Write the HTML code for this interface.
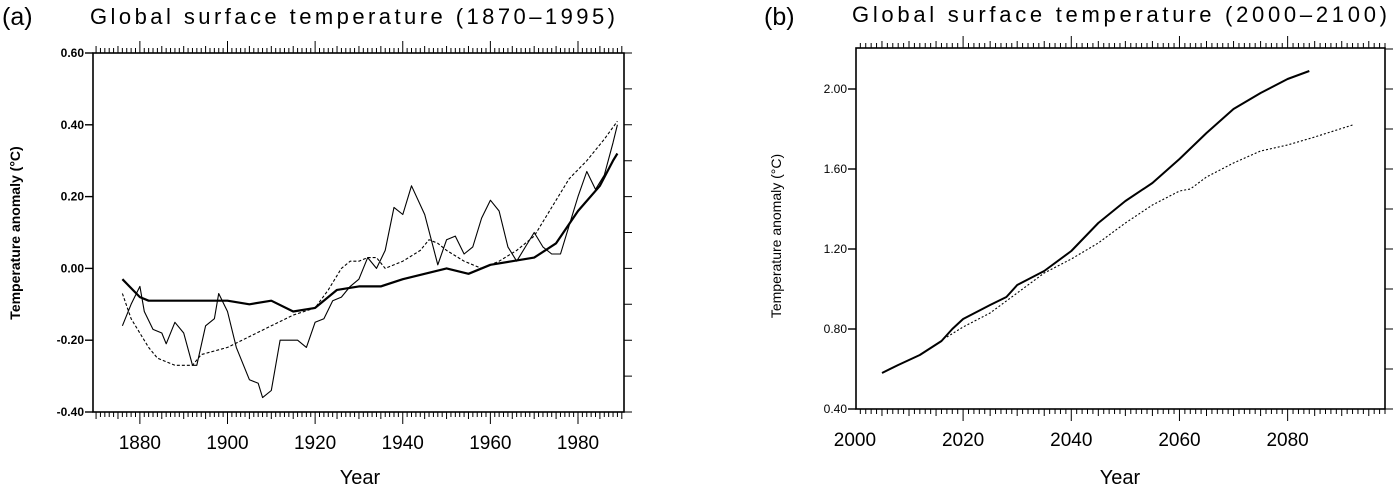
<!DOCTYPE html>
<html><head><meta charset="utf-8"><style>
html,body{margin:0;padding:0;background:#fff;width:1400px;height:489px;overflow:hidden}
svg{display:block}
text{font-family:"Liberation Sans",sans-serif;fill:#000}
</style></head><body>
<svg id="fig" width="1400" height="489" viewBox="0 0 1400 489" xmlns="http://www.w3.org/2000/svg">
<text x="2" y="25" font-size="25">(a)</text>
<text x="90" y="24" font-size="22" textLength="525" lengthAdjust="spacing">Global surface temperature (1870–1995)</text>
<text x="764" y="25" font-size="25">(b)</text>
<text x="852" y="22" font-size="22" textLength="535" lengthAdjust="spacing">Global surface temperature (2000–2100)</text>
<text x="360" y="484" font-size="20" text-anchor="middle">Year</text>
<text x="1120" y="484" font-size="20" text-anchor="middle">Year</text>
<text transform="translate(20,233) rotate(-90)" font-size="14" font-weight="bold" text-anchor="middle">Temperature anomaly (°C)</text>
<text transform="translate(781,236) rotate(-90)" font-size="14" text-anchor="middle">Temperature anomaly (°C)</text>
<g id="pa"></g>
<g id="pb"></g>
</svg>
<script>
// Panel A data
const aObsYears=[1876,1878,1880,1881,1883,1885,1886,1888,1890,1892,1893,1895,1897,1898,1900,1902,1905,1907,1908,1910,1912,1914,1916,1918,1920,1922,1924,1926,1928,1930,1932,1934,1936,1938,1940,1942,1945,1948,1950,1952,1954,1956,1958,1960,1962,1964,1966,1968,1970,1972,1974,1976,1978,1980,1982,1984,1986,1988,1989];
const aObsVals=[-0.16,-0.1,-0.05,-0.12,-0.17,-0.18,-0.21,-0.15,-0.18,-0.27,-0.27,-0.16,-0.14,-0.07,-0.12,-0.22,-0.31,-0.32,-0.36,-0.34,-0.2,-0.2,-0.2,-0.22,-0.15,-0.14,-0.09,-0.08,-0.05,-0.03,0.03,0.0,0.05,0.17,0.15,0.23,0.15,0.01,0.08,0.09,0.04,0.06,0.14,0.19,0.16,0.06,0.02,0.06,0.1,0.06,0.04,0.04,0.12,0.2,0.27,0.22,0.26,0.35,0.4];
const aModelYears=[1876,1880,1882,1890,1900,1905,1910,1915,1920,1925,1930,1935,1940,1945,1950,1955,1960,1965,1970,1975,1980,1985,1988,1989];
const aModelVals=[-0.03,-0.08,-0.09,-0.09,-0.09,-0.1,-0.09,-0.12,-0.11,-0.06,-0.05,-0.05,-0.03,-0.015,0.0,-0.015,0.01,0.02,0.03,0.07,0.16,0.23,0.3,0.32];
const aDashYears=[1876,1878,1882,1884,1888,1892,1894,1900,1905,1910,1915,1920,1923,1926,1928,1930,1932,1934,1936,1940,1944,1946,1948,1950,1954,1958,1962,1966,1970,1974,1978,1982,1986,1989];
const aDashVals=[-0.07,-0.14,-0.22,-0.25,-0.27,-0.27,-0.24,-0.22,-0.19,-0.16,-0.13,-0.11,-0.06,0.0,0.02,0.02,0.03,0.03,0.0,0.02,0.05,0.08,0.07,0.05,0.02,0.0,0.02,0.05,0.09,0.17,0.25,0.3,0.36,0.41];
const aXTicks=[1880,1900,1920,1940,1960,1980];
const aYTicks=[-0.4,-0.2,0,0.2,0.4,0.6];
const aYLabels=["-0.40","-0.20","0.00","0.20","0.40","0.60"];
// Panel B data
const bSolidYears=[2005,2008,2012,2016,2018,2020,2025,2028,2030,2035,2040,2045,2050,2055,2060,2065,2070,2075,2080,2084];
const bSolidVals=[0.58,0.62,0.67,0.74,0.8,0.85,0.92,0.96,1.02,1.09,1.19,1.33,1.44,1.53,1.65,1.78,1.9,1.98,2.05,2.09];
const bDotYears=[2017,2020,2025,2030,2035,2040,2045,2050,2055,2060,2062,2065,2070,2075,2080,2085,2092];
const bDotVals=[0.76,0.81,0.88,0.98,1.08,1.15,1.23,1.33,1.42,1.49,1.5,1.56,1.63,1.69,1.72,1.76,1.82];
const bXTicks=[2000,2020,2040,2060,2080];
const bYTicks=[0.4,0.8,1.2,1.6,2.0];
const bYLabels=["0.40","0.80","1.20","1.60","2.00"];

const NS="http://www.w3.org/2000/svg";
function mk(g,tag,at){const e=document.createElementNS(NS,tag);for(const k in at)e.setAttribute(k,at[k]);g.appendChild(e);return e;}
function panel(gid,P,key){
  const g=document.getElementById(gid);
  const sx=v=>P.x0+(v-P.xmin)/(P.xmax-P.xmin)*(P.x1-P.x0);
  const sy=v=>P.y1-(v-P.ymin)/(P.ymax-P.ymin)*(P.y1-P.y0);
  let f=mk(g,'rect',{x:P.x0,y:P.y0,width:P.x1-P.x0,height:P.y1-P.y0,fill:'none',stroke:'#000','stroke-width':1.6});
  
  
  let d='';
  for(let yr=Math.ceil(P.xmin);yr<=P.xmax;yr++){
    const x=sx(yr);const big=yr%20===0;const mid=yr%5===0;
    const L=big?12:(mid?7:5);
    d+=`M${x} ${P.y0}v${-L}M${x} ${P.y1}v${L}`;
  }
  const mt=P.yMinor;
  for(let v=P.ymin;v<=P.ymax+1e-9;v+=mt){d+=`M${P.x1} ${sy(v)}h8`;}
  let t=mk(g,'path',{d:d,stroke:'#000','stroke-width':1,fill:'none'});
  
  
  P.yt.forEach((v,i)=>{
    mk(g,'path',{d:`M${P.x0-8} ${sy(v)}h8`,stroke:'#000','stroke-width':1.4});
    const tx=mk(g,'text',{x:P.x0-9,y:sy(v)+4,'font-size':12,'font-weight':P.bold?'bold':'normal','text-anchor':'end'});
    tx.textContent=P.yl[i];
    
    
  });
  P.xt.forEach(v=>{
    const tx=mk(g,'text',{x:sx(v),y:P.y1+37,'font-size':19,'text-anchor':'middle'});
    tx.textContent=v;
    
    
  });
  P.series.forEach(s=>{
    const pts=s.xs.map((x,i)=>sx(x).toFixed(1)+','+sy(s.ys[i]).toFixed(1)).join(' ');
    const pl=mk(g,'polyline',{points:pts,fill:'none',stroke:'#000','stroke-width':s.w,'stroke-dasharray':s.dash||'none','stroke-linejoin':'round'});
    
    
  });
}
panel('pa',{x0:93,x1:624,y0:53,y1:412,xmin:1869.3,xmax:1990.5,ymin:-0.4,ymax:0.6,yMinor:0.1,xt:aXTicks,yt:aYTicks,yl:aYLabels,bold:true,
  series:[{name:'observed-line',xs:aObsYears,ys:aObsVals,w:1.1},
          {name:'model-line',xs:aModelYears,ys:aModelVals,w:2.2},
          {name:'dashed-line',xs:aDashYears,ys:aDashVals,w:1.1,dash:'3,2'}]},'panel-a');
panel('pb',{x0:856,x1:1385,y0:48,y1:409,xmin:2000.2,xmax:2098,ymin:0.4,ymax:2.205,yMinor:0.2,xt:bXTicks,yt:bYTicks,yl:bYLabels,bold:false,
  series:[{name:'scenario-solid-line',xs:bSolidYears,ys:bSolidVals,w:2},
          {name:'scenario-dotted-line',xs:bDotYears,ys:bDotVals,w:1.1,dash:'2,2'}]},'panel-b');
</script>
</body></html>
